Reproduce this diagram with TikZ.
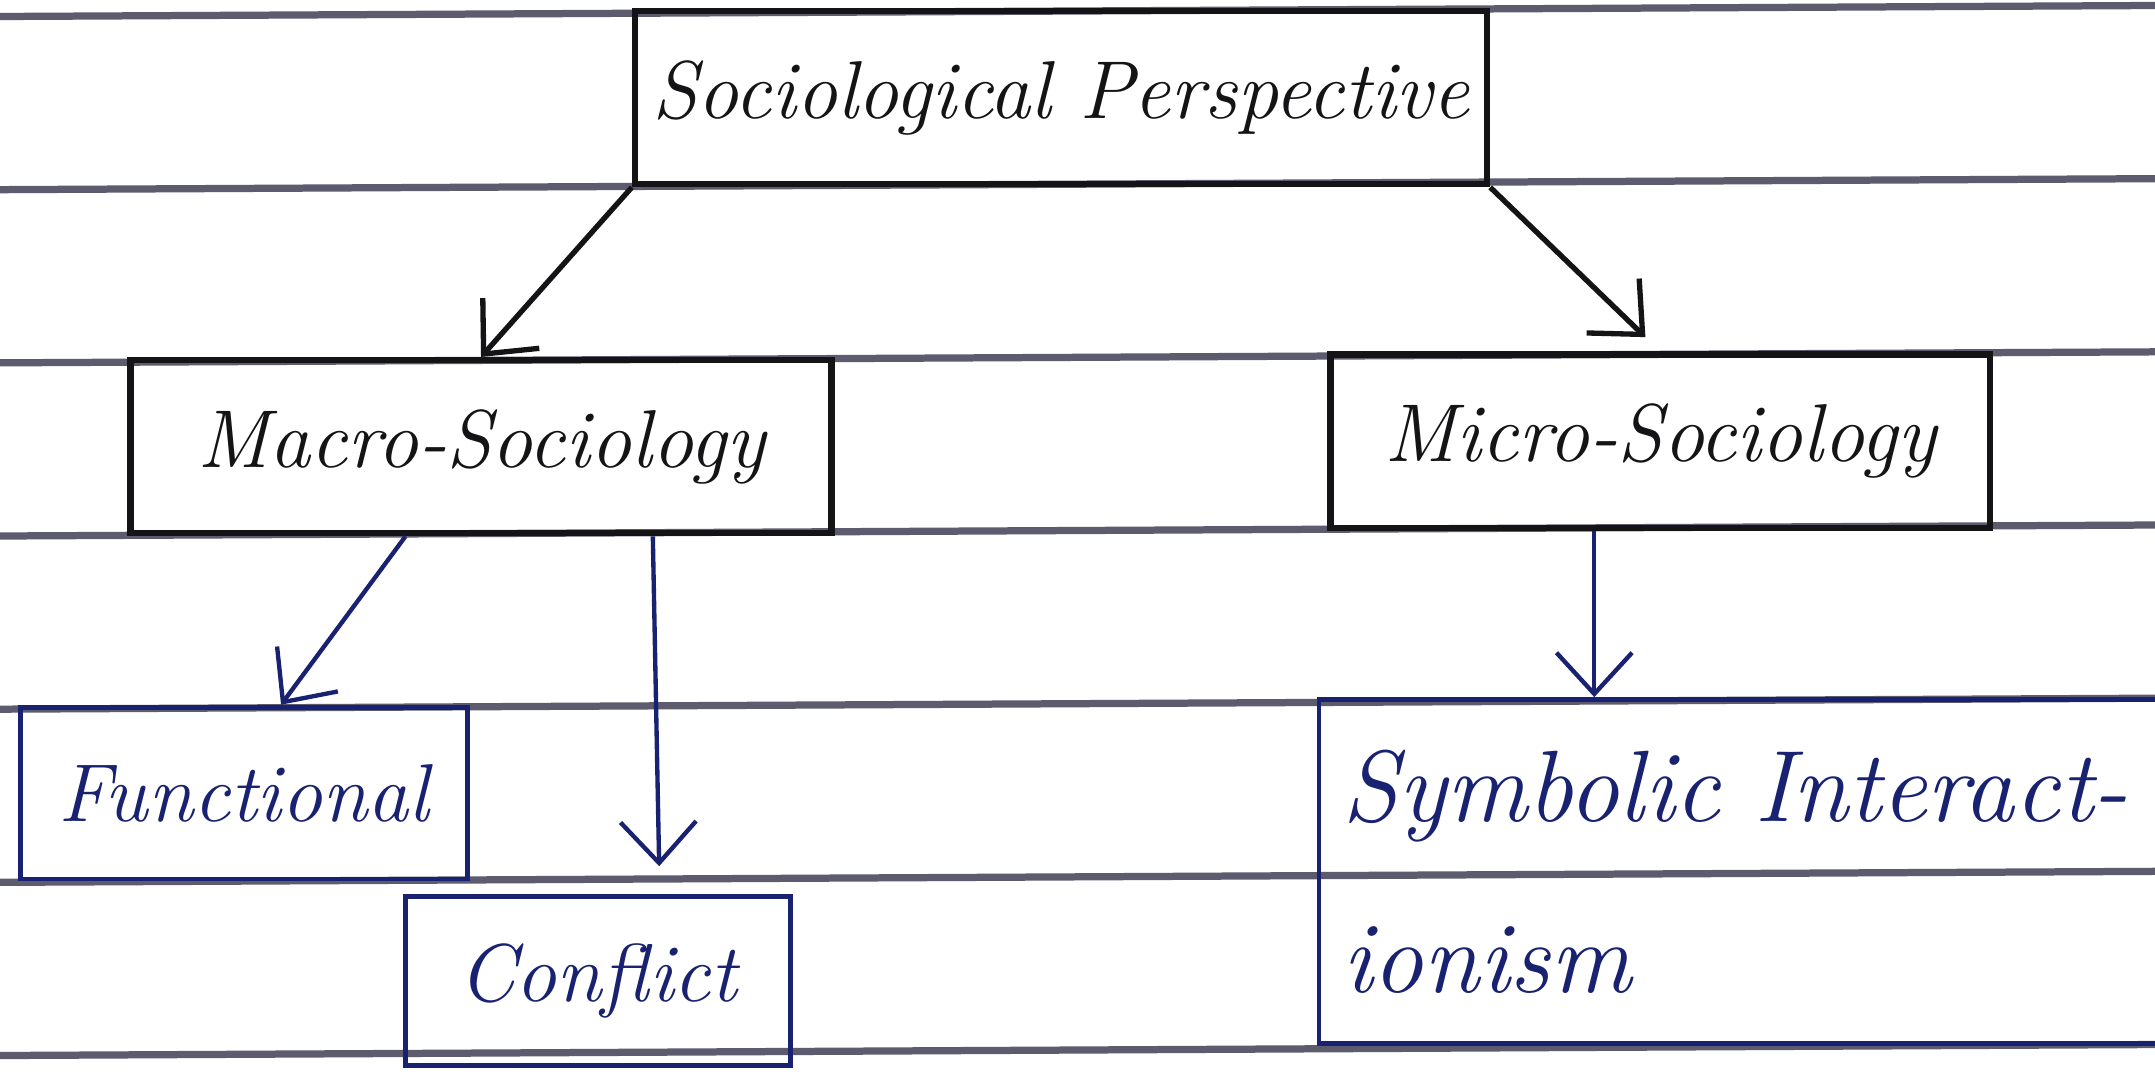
\documentclass[tikz,border=0pt]{standalone}
\usepackage{tikz}
\usetikzlibrary{positioning}
\usetikzlibrary{arrows.meta}
\usetikzlibrary{calc}
\definecolor{ink}{RGB}{20,20,22}
\definecolor{blueink}{RGB}{24,34,112}
\definecolor{rule}{RGB}{92,92,110}
\tikzset{
    box/.style={draw=ink, text=ink, line width=1.3pt, inner sep=0pt, font=\fontsize{17}{20}\selectfont\itshape},
    bluebox/.style={box, draw=blueink, text=blueink, line width=1pt},
    arr/.style={draw=ink, line width=1.1pt, -{Straight Barb[length=3mm,width=5.5mm]}},
    bluearr/.style={arr, draw=blueink, line width=0.9pt},
    ruled/.style={draw=rule, line width=1.5pt}
}

\begin{document}
\begin{tikzpicture}
    \useasboundingbox[fill=white] (0,0) rectangle (15.68,7.84);
    \clip (0,0) rectangle (15.68,7.84);
    \foreach \i in {0,...,6}
        \path[ruled] (0,7.72-1.26*\i) -- (15.68,7.80-1.26*\i);
    \node[box, minimum width=6.2cm, minimum height=1.26cm] (top) at (7.72,7.13) {Sociological Perspective};
    \node[box, minimum width=5.1cm, minimum height=1.26cm] (macro) at (3.50,4.59) {Macro-Sociology};
    \node[box, minimum width=4.8cm, minimum height=1.26cm] (micro) at (12.08,4.63) {Micro-Sociology};
    \node[bluebox, minimum width=3.25cm, minimum height=1.25cm] (func) at (1.775,2.07) {Functional};
    \node[bluebox, minimum width=2.8cm, minimum height=1.23cm] (conf) at (4.35,0.705) {Conflict};
    \node[bluebox, anchor=west, minimum width=7cm, minimum height=2.5cm, inner xsep=0.17cm,
          text width=6.66cm, align=left, font=\fontsize{21}{24}\selectfont\itshape] (symb) at (9.58,1.50)
          {Symbolic Interact-\\[0.4cm]ionism};
    \draw[arr] (top.south west) -- (macro.north);
    \draw[arr, shorten >=1.5mm] (top.south east) -- (micro.north);
    \draw[bluearr] ([xshift=-5.5mm]macro.south) -- ([xshift=2.7mm]func.north);
    \draw[bluearr, shorten >=2mm] ([xshift=12.5mm]macro.south) -- ([xshift=4.5mm]conf.north);
    \draw[bluearr] ([xshift=-4.8mm]micro.south) -- ([xshift=-4.8mm]micro.south |- symb.north);
\end{tikzpicture}
\end{document}
